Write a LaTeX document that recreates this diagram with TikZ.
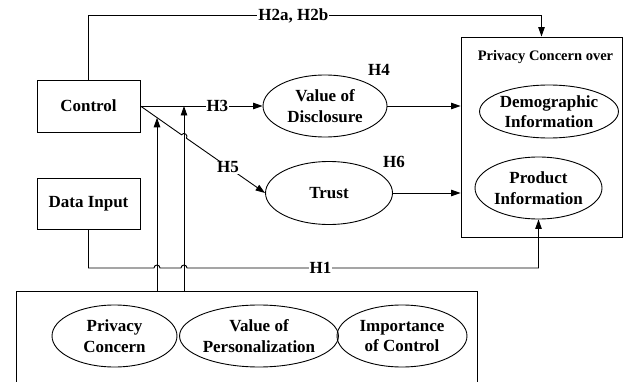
\documentclass[tikz,border=0pt]{standalone}
\usepackage{fontspec}
\setmainfont{Liberation Serif}
\usetikzlibrary{shapes.geometric,arrows.meta}

\begin{document}
\begin{tikzpicture}[x=1pt,y=1pt,line width=0.9pt,
                box/.style={draw,rectangle,inner sep=0pt,font=\fontsize{17}{20.5}\selectfont\bfseries},
                oval/.style={draw,ellipse,inner sep=0pt,align=center,font=\fontsize{17}{20.5}\selectfont\bfseries},
                hlbl/.style={fill=white,inner sep=1pt,font=\fontsize{17}{20.5}\selectfont\bfseries},
                arr/.style={-{Triangle[length=9.5pt,width=6.5pt]}}]
                \useasboundingbox (0,0) rectangle (624,381);

                \node[box,minimum width=103,minimum height=52] (ctrl) at (88.5,275) {Control};
                \node[box,minimum width=103,minimum height=51] (data) at (88.5,177.5) {Data Input};

                \node[draw,inner sep=0pt,minimum width=161,minimum height=200] (pc) at (541.5,244) {};
                \node[font=\fontsize{14.5}{17}\selectfont\bfseries] (pctitle) at (545.5,323.5) {Privacy Concern over};
                \node[oval,minimum width=135,minimum height=53] (demo) at (549,269.5) {Demographic\\Information};
                \node[oval,minimum width=127,minimum height=62] (prod) at (538.5,193) {Product\\Information};

                \node[oval,minimum width=124,minimum height=62] (disc) at (325,275) {Value of\\Disclosure};
                \node[oval,minimum width=127,minimum height=63] (trust) at (329,188) {Trust};
                \node[hlbl] (h4) at (379,311) {H4};
                \node[hlbl] (h6) at (394,219) {H6};

                \node[draw,inner sep=0pt,minimum width=461,minimum height=100] (mods) at (246.5,40) {};
                \node[oval,minimum width=125,minimum height=62] (pcon) at (114.5,45) {Privacy\\Concern};
                \node[oval,minimum width=148,minimum height=62] (vper) at (259,45) {Value of\\Personalization};
                \node[oval,minimum width=130,minimum height=62] (impc) at (402,45) {Importance\\of Control};

                \coordinate (tip1) at (157,263.2);
                \coordinate (tip2) at (184,275);

                \draw[arr] (ctrl.north) -- ++(0,64) -| node[hlbl,pos=0.226] {H2a, H2b} (pc.north);
                \draw[arr] (ctrl.east) -- node[hlbl,pos=0.63] {H3} (disc.west);
                \draw[arr] (ctrl.east) -- (181.5,246.2) arc[start angle=145.3,end angle=-34.7,radius=3]
                        -- node[hlbl,pos=0.53] {H5} (trust.west);
                \draw[arr] (disc.east) -- (disc.east -| pc.west);
                \draw[arr] (trust.east) -- (trust.east -| pc.west);

                \draw[arr] (data.south) |- (154,113) arc[start angle=180,end angle=0,radius=3]
                        -- (181,113) arc[start angle=180,end angle=0,radius=3]
                        -| node[hlbl,pos=0.19] {H1} (prod.south);

                \draw[arr] (mods.north -| tip1) -- (tip1);
                \draw[arr] (mods.north -| tip2) -- (tip2);
            \end{tikzpicture}
\end{document}
